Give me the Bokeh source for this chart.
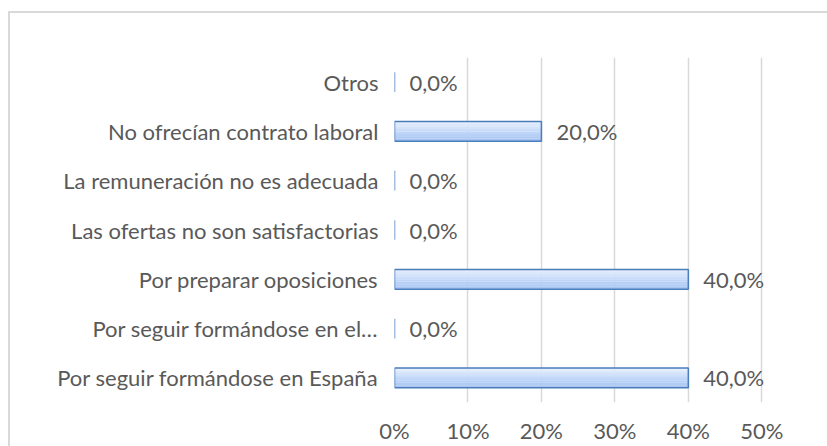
from bokeh.plotting import figure
from bokeh.models import ColumnDataSource, FactorRange, FixedTicker, CustomJSTickFormatter
from bokeh.transform import dodge
from bokeh.core.properties import value
from bokeh.embed import file_html
from bokeh.resources import INLINE

categories = [
    "Por seguir formándose en España",
    "Por seguir formándose en el…",
    "Por preparar oposiciones",
    "Las ofertas no son satisfactorias",
    "La remuneración no es adecuada",
    "No ofrecían contrato laboral",
    "Otros",
]
values = [40.0, 0.0, 40.0, 0.0, 0.0, 20.0, 0.0]
labels = ["40,0%", "0,0%", "40,0%", "0,0%", "0,0%", "20,0%", "0,0%"]
x_ticks = [0, 10, 20, 30, 40, 50]

FONT = "Lato"
FS = "22px"
TXT = "#595959"

src = ColumnDataSource(dict(cat=categories, val=values, lab=labels))

p = figure(
    width=827, height=446,
    y_range=FactorRange(*categories), x_range=(0, 55),
    output_backend="svg", toolbar_location=None,
    min_border_left=394, min_border_right=29, min_border_top=57, min_border_bottom=41,
)
p.outline_line_color = None
p.background_fill_color = "white"
p.border_fill_color = "white"
p.border_fill_alpha = 0.0

# gradient bars (light top -> deeper bottom)
grad = ["#e3edfd", "#dae7fc", "#d2e2fb", "#c9dcf9", "#c0d6f8", "#b7d0f6", "#afcaf4", "#a8c5f2"]
n = len(grad)
bh = 0.4
strip = bh / n
for i, c in enumerate(grad):
    off = bh / 2 - strip * (i + 0.5)
    p.hbar(y=dodge("cat", off, range=p.y_range), right="val", left=0, height=strip * 1.02,
           source=src, fill_color=c, line_color=None)
p.hbar(y="cat", right="val", left=0, height=bh, source=src,
       fill_color=None, line_color="#4a7ebb", line_width=1.5)

p.text(x="val", y="cat", text="lab", source=src, x_offset=15,
       text_align="left", text_baseline="middle",
       text_font=value(FONT), text_font_size=FS, text_color=TXT)

p.xgrid.ticker = FixedTicker(ticks=x_ticks)
p.xgrid.grid_line_color = "#d9d9d9"
p.xgrid.grid_line_width = 1.5
p.ygrid.grid_line_color = None

p.xaxis.ticker = FixedTicker(ticks=x_ticks)
p.xaxis.formatter = CustomJSTickFormatter(code="return tick.toFixed(0) + '%';")
p.xaxis.axis_line_color = None
p.xaxis.major_tick_line_color = None
p.xaxis.minor_tick_line_color = None
p.xaxis.major_tick_out = 0
p.xaxis.major_tick_in = 0
p.xaxis.major_label_standoff = 14
p.xaxis.major_label_text_font = FONT
p.xaxis.major_label_text_font_size = FS
p.xaxis.major_label_text_color = TXT

p.yaxis.axis_line_color = None
p.yaxis.major_tick_line_color = None
p.yaxis.minor_tick_line_color = None
p.yaxis.major_label_standoff = 10
p.yaxis.major_label_text_font = FONT
p.yaxis.major_label_text_font_size = FS
p.yaxis.major_label_text_color = TXT

# chart-area border: top and left edges, drawn as CSS background behind a transparent canvas
line = "linear-gradient(#d9d9d9, #d9d9d9)"
p.styles = {
    "background": f"{line} 8px 11px / 2px 100% no-repeat, {line} 8px 11px / 100% 2px no-repeat, white",
}

open("out.html", "w").write(file_html(p, INLINE))
